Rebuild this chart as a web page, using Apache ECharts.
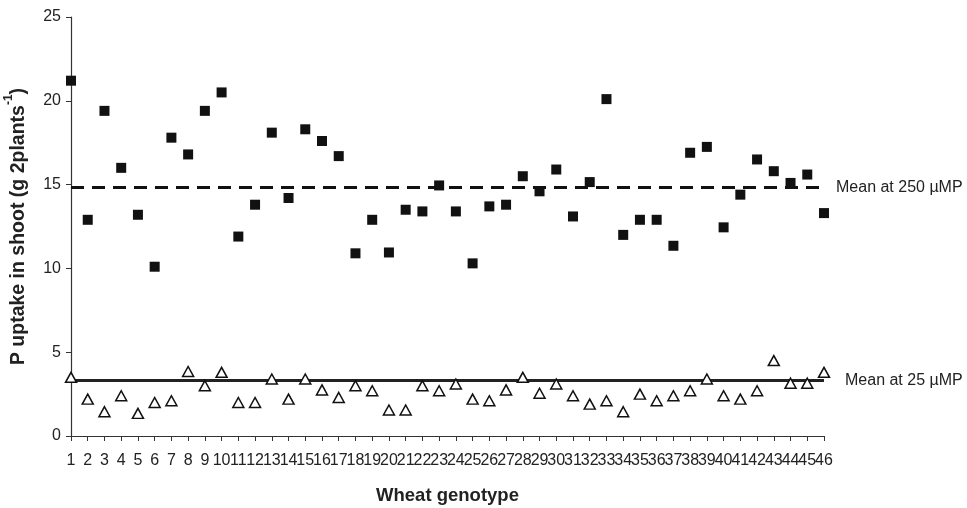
<!DOCTYPE html>
<html>
<head>
<meta charset="utf-8">
<script src="https://cdn.jsdelivr.net/npm/echarts@6/dist/echarts.min.js"></script>
<style>html,body{margin:0;padding:0;background:#fff;}#c{width:967px;height:508px;}</style>
</head>
<body>
<div id="c"></div>
<script>
const genotypes = ['1','2','3','4','5','6','7','8','9','10','11','12','13','14','15','16','17','18','19','20','21','22','23','24','25','26','27','28','29','30','31','32','33','34','35','36','37','38','39','40','41','42','43','44','45','46'];
const uptake250 = [21.2,12.9,19.4,16.0,13.2,10.1,17.8,16.8,19.4,20.5,11.9,13.8,18.1,14.2,18.3,17.6,16.7,10.9,12.9,10.95,13.5,13.4,14.95,13.4,10.3,13.7,13.8,15.5,14.6,15.9,13.1,15.15,20.1,12.0,12.9,12.9,11.35,16.9,17.25,12.45,14.4,16.5,15.8,15.1,15.6,13.3];
const uptake25 = [3.5,2.2,1.45,2.4,1.35,2.0,2.1,3.85,3.0,3.8,2.0,2.0,3.4,2.2,3.4,2.75,2.3,3.0,2.7,1.55,1.55,3.0,2.7,3.1,2.2,2.1,2.75,3.5,2.55,3.1,2.4,1.9,2.1,1.45,2.5,2.1,2.4,2.7,3.4,2.4,2.2,2.7,4.5,3.15,3.15,3.8];
const mean250 = 14.85;
const mean25 = 3.3;
const yTicks = [0, 25, 5];

const chart = echarts.init(document.getElementById('c'), null, {renderer:'canvas'});
const FONT = 'Liberation Sans, Arial, sans-serif';
chart.setOption({
  animation: false,
  backgroundColor: '#fff',
  grid: {left: 71, right: 143, top: 17, bottom: 72, containLabel: false, outerBoundsMode: 'none'},
  xAxis: {
    type: 'category',
    data: genotypes,
    boundaryGap: false,
    name: 'Wheat genotype',
    nameLocation: 'middle',
    nameGap: 50,
    nameTextStyle: {fontFamily: FONT, fontSize: 18.5, fontWeight: 'bold', color: '#222'},
    axisLine: {lineStyle: {color: '#333', width: 1.2}},
    axisTick: {show: true, alignWithLabel: true, interval: 0, length: 5, lineStyle: {color: '#333'}},
    axisLabel: {interval: 0, margin: 17, fontFamily: FONT, fontSize: 16, color: '#222', hideOverlap: false},
    splitLine: {show: false}
  },
  yAxis: {
    type: 'value',
    min: yTicks[0], max: yTicks[1], interval: yTicks[2],
    name: '{t|P uptake in shoot (g 2plants}{s|-1}{t|)}',
    nameLocation: 'middle',
    nameRotate: 90,
    nameGap: 42,
    nameTextStyle: {
      fontFamily: FONT, fontSize: 19.5, fontWeight: 'bold', color: '#222',
      rich: {
        t: {fontFamily: FONT, fontSize: 19.5, fontWeight: 'bold', color: '#222', lineHeight: 26, verticalAlign: 'bottom'},
        s: {fontFamily: FONT, fontSize: 12, fontWeight: 'bold', color: '#222', lineHeight: 26, verticalAlign: 'top'}
      }
    },
    axisLine: {show: true, lineStyle: {color: '#333', width: 1.2}},
    axisTick: {show: true, length: 5, lineStyle: {color: '#333'}},
    axisLabel: {margin: 10, fontFamily: FONT, fontSize: 16, color: '#222'},
    splitLine: {show: false}
  },
  series: [
    {
      name: '250 µMP', type: 'scatter', data: uptake250,
      symbol: 'rect', symbolSize: 10,
      itemStyle: {color: '#111', opacity: 1},
      z: 3,
      markLine: {
        silent: true, symbol: 'none', animation: false,
        lineStyle: {color: '#111', width: 3, type: [13, 8]},
        label: {show: true, position: 'end', distance: 12, formatter: 'Mean at 250 µMP', fontFamily: FONT, fontSize: 16, color: '#222'},
        data: [{yAxis: mean250}],
        z: 2
      }
    },
    {
      name: '25 µMP', type: 'scatter', data: uptake25,
      symbol: 'triangle', symbolSize: [11, 10],
      itemStyle: {color: '#fff', borderColor: '#111', borderWidth: 1.5, opacity: 1},
      z: 3,
      markLine: {
        silent: true, symbol: 'none', animation: false,
        lineStyle: {color: '#222', width: 3, type: 'solid'},
        label: {show: true, position: 'end', distance: 21, formatter: 'Mean at 25 µMP', fontFamily: FONT, fontSize: 16, color: '#222'},
        data: [{yAxis: mean25}],
        z: 2
      }
    }
  ]
});
</script>
</body>
</html>
